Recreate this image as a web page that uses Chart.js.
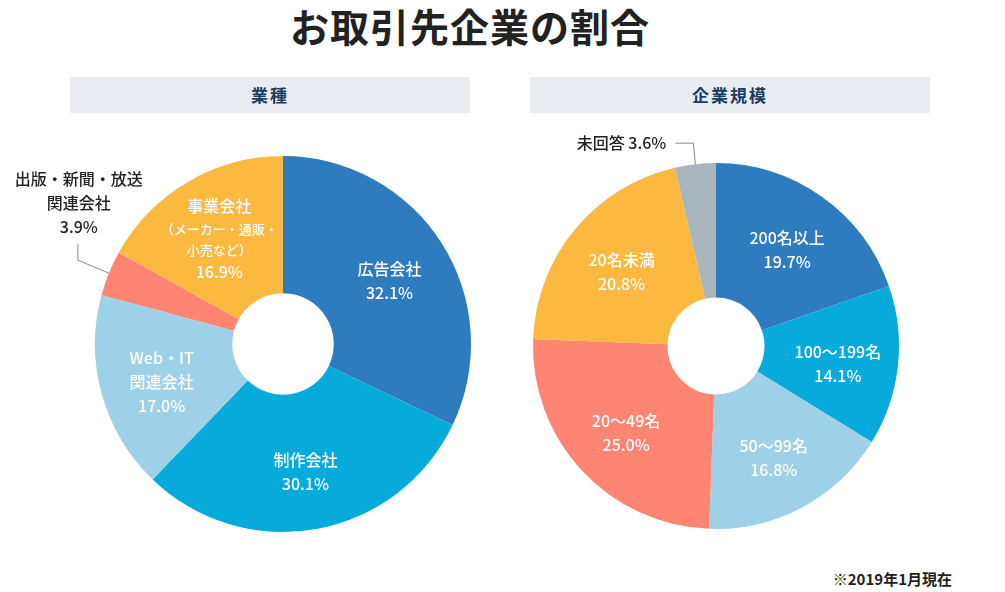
<!DOCTYPE html>
<html lang="ja">
<head>
<meta charset="utf-8">
<script src="https://cdn.jsdelivr.net/npm/chart.js@4.4.1/dist/chart.umd.min.js"></script>
<style>
    body { margin: 0; background: #fff; font-family: "Noto Sans CJK JP", "Noto Sans", sans-serif; }
    .page { position: relative; width: 1005px; height: 592px; overflow: hidden; }
    h1 { position: absolute; left: 0; width: 940px; top: -3px; margin: 0; text-align: center; font-size: 39px; font-weight: 700; color: #222; letter-spacing: 1px; }
    .band { position: absolute; top: 77px; height: 36px; width: 400px; background: #e9edf2; color: #1c3b63; font-size: 17px; font-weight: 700; line-height: 36px; text-align: center; letter-spacing: 2px; }
    .note { position: absolute; right: 53px; top: 568px; font-size: 15px; font-weight: 700; color: #222; }
    canvas { position: absolute; }
</style>
</head>
<body>
<div class="page">
    <h1>お取引先企業の割合</h1>
    <div class="band" style="left:70px">業種</div>
    <div class="band" style="left:530px">企業規模</div>
    <div style="position:absolute;left:0;top:120px;width:500px;height:440px"><canvas id="industryChart"></canvas></div>
    <div style="position:absolute;left:500px;top:120px;width:505px;height:440px"><canvas id="sizeChart"></canvas></div>
    <div class="note">※2019年1月現在</div>
</div>
<script>
// 業種
const industryLabels = ['広告会社', '制作会社', 'Web・IT\n関連会社', '出版・新聞・放送\n関連会社', '事業会社'];
const industryNotes = ['', '', '', '', '（メーカー・通販・\n小売など）'];
const industryValues = [32.1, 30.1, 17.0, 3.9, 16.9];
const industryColors = ['#2e7bbf', '#06aadb', '#9ed0e7', '#fd8572', '#fcb940'];

// 企業規模
const sizeLabels = ['200名以上', '100～199名', '50～99名', '20～49名', '20名未満', '未回答'];
const sizeValues = [19.7, 14.1, 16.8, 25.0, 20.8, 3.6];
const sizeColors = ['#2e7bbf', '#06aadb', '#9ed0e7', '#fd8572', '#fcb940', '#a8b5bc'];

const FONT = '"Noto Sans CJK JP", "Noto Sans", sans-serif';

// draws the labels inside the slices, small slices get a leader line outside
const sliceLabels = {
    id: 'sliceLabels',
    afterDatasetsDraw(chart, args, opts) {
        const ctx = chart.ctx;
        const meta = chart.getDatasetMeta(0);
        const values = chart.data.datasets[0].data;
        ctx.save();
        ctx.textAlign = 'center';
        ctx.textBaseline = 'middle';
        meta.data.forEach((arc, i) => {
            const value = values[i];
            const name = chart.data.labels[i];
            const note = (opts.notes && opts.notes[i]) || '';
            const mid = (arc.startAngle + arc.endAngle) / 2;
            if (value < 5) {
                // outer label with leader line
                const ox = arc.x + Math.cos(mid) * arc.outerRadius;
                const oy = arc.y + Math.sin(mid) * arc.outerRadius;
                ctx.strokeStyle = '#888';
                ctx.lineWidth = 1;
                ctx.fillStyle = '#222';
                ctx.font = '500 16px ' + FONT;
                ctx.beginPath();
                if (opts.leader === 'up') {
                    const ex = ox - 31, ey = oy - 13;
                    ctx.moveTo(ox, oy);
                    ctx.lineTo(ex, ey);
                    ctx.lineTo(ex, ey - 16);
                    ctx.stroke();
                    const lines = name.split('\n').concat(value.toFixed(1) + '%');
                    lines.forEach((l, k) => {
                        ctx.fillText(l, ex + 1, ey - 16 - 17 - (lines.length - 1 - k) * 24);
                    });
                } else {
                    const ex = ox - 2, ey = oy - 21;
                    ctx.moveTo(ox, oy);
                    ctx.lineTo(ex, ey);
                    ctx.lineTo(ex - 18, ey);
                    ctx.stroke();
                    ctx.textAlign = 'right';
                    ctx.fillText(name + ' ' + value.toFixed(1) + '%', ex - 27, ey);
                    ctx.textAlign = 'center';
                }
                return;
            }
            const r = arc.outerRadius * 0.67;
            const cx = arc.x + Math.cos(mid) * r;
            const cy = arc.y + Math.sin(mid) * r;
            const lines = [];
            name.split('\n').forEach(l => lines.push({ text: l, size: 16, h: 24 }));
            if (note) note.split('\n').forEach(l => lines.push({ text: l, size: 13, h: 21 }));
            lines.push({ text: value.toFixed(1) + '%', size: 16, h: 24 });
            const total = lines.reduce((s, l) => s + l.h, 0);
            let y = cy - total / 2 + 4;
            ctx.fillStyle = '#fff';
            lines.forEach(l => {
                ctx.font = '500 ' + l.size + 'px ' + FONT;
                ctx.fillText(l.text, cx, y + l.h / 2);
                y += l.h;
            });
        });
        ctx.restore();
    }
};

function makePie(id, labels, values, colors, padding, cutout, extra) {
    return new Chart(document.getElementById(id), {
        type: 'doughnut',
        data: {
            labels: labels,
            datasets: [{
                data: values,
                backgroundColor: colors,
                borderWidth: 0
            }]
        },
        options: {
            responsive: true,
            maintainAspectRatio: false,
            animation: false,
            cutout: cutout,
            layout: { padding: padding },
            plugins: {
                legend: { display: false },
                tooltip: { enabled: false },
                sliceLabels: extra
            }
        },
        plugins: [sliceLabels]
    });
}

makePie('industryChart', industryLabels, industryValues, industryColors,
    { left: 95, right: 29, top: 36, bottom: 28 }, '27%',
    { notes: industryNotes, leader: 'up' });

makePie('sizeChart', sizeLabels, sizeValues, sizeColors,
    { left: 33, right: 106, top: 43, bottom: 31 }, '26.5%',
    { leader: 'left' });
</script>
</body>
</html>
